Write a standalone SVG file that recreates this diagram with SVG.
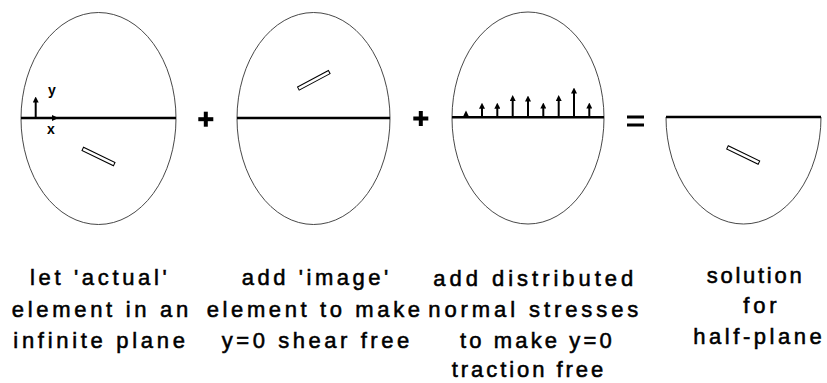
<svg xmlns="http://www.w3.org/2000/svg" width="827" height="383" viewBox="0 0 827 383">
  <defs>
    <marker id="ah" viewBox="0 0 6 6" refX="2" refY="3" markerWidth="6" markerHeight="6" markerUnits="userSpaceOnUse" orient="auto">
      <path d="M0,0 L6,3 L0,6 z" fill="#000"/>
    </marker>
  </defs>
  <style>
    .outline { fill: none; stroke: #333; stroke-width: 0.9; }
    .plane { stroke: #000; stroke-width: 2.6; fill: none; }
    .crack { fill: #fff; stroke: #000; stroke-width: 1; }
    .arr { stroke: #000; stroke-width: 2; fill: none; marker-end: url(#ah); }
    .op { fill: #000; }
    .lbl { font-family: "Liberation Sans", Arial, sans-serif; font-size: 22px; fill: #000; stroke: #000; stroke-width: 0.55; }
    .ax { font-family: "Liberation Sans", Arial, sans-serif; font-size: 14px; font-weight: bold; fill: #000; }
  </style>
  <rect width="827" height="383" fill="#fff"/>

  <g id="panel-actual">
    <ellipse class="outline" cx="98.5" cy="118.5" rx="77.5" ry="106"/>
    <line class="plane" x1="21" y1="118" x2="176" y2="118"/>
    <line class="arr" x1="35.7" y1="118" x2="35.7" y2="100.5"/>
    <polygon points="52,115 58.5,118 52,121" fill="#000"/>
    <text class="ax" x="48" y="95">y</text>
    <text class="ax" x="47" y="134">x</text>
    <rect class="crack" x="81" y="154.75" width="35" height="3.5" transform="rotate(26 98.5 156.5)"/>
  </g>

  <g id="panel-image">
    <ellipse class="outline" cx="313.5" cy="118.5" rx="76.5" ry="106"/>
    <line class="plane" x1="237" y1="118" x2="390" y2="118"/>
    <rect class="crack" x="296.3" y="78.55" width="35" height="3.5" transform="rotate(-28 313.8 80.3)"/>
  </g>

  <g id="panel-stresses">
    <ellipse class="outline" cx="528" cy="118" rx="76" ry="106"/>
    <line class="plane" x1="452" y1="117.3" x2="604" y2="117.3"/>
    <polygon points="462.8,117 469.2,117 466,110.5" fill="#000"/>
    <line class="arr" x1="482" y1="117" x2="482" y2="106.7"/>
    <line class="arr" x1="497.3" y1="117" x2="497.3" y2="106.7"/>
    <line class="arr" x1="512.7" y1="117" x2="512.7" y2="99"/>
    <line class="arr" x1="528" y1="117" x2="528" y2="99.5"/>
    <line class="arr" x1="543.3" y1="117" x2="543.3" y2="106.5"/>
    <line class="arr" x1="558.7" y1="117" x2="558.7" y2="99"/>
    <line class="arr" x1="574" y1="117" x2="574" y2="91.5"/>
    <line class="arr" x1="589.3" y1="117" x2="589.3" y2="106.5"/>
  </g>

  <g id="panel-halfplane">
    <path class="outline" d="M666,117 A77.5,107 0 0 0 821,117"/>
    <line class="plane" x1="666" y1="117" x2="821" y2="117"/>
    <rect class="crack" x="725.7" y="153.25" width="35" height="3.5" transform="rotate(26 743.2 155)"/>
  </g>

  <g id="operators">
    <rect class="op" x="198.3" y="117.2" width="15" height="4"/>
    <rect class="op" x="203.8" y="111.7" width="4" height="15"/>
    <rect class="op" x="413.3" y="116.5" width="15" height="4"/>
    <rect class="op" x="418.8" y="111" width="4" height="15"/>
    <rect class="op" x="627" y="115.5" width="17" height="3"/>
    <rect class="op" x="627" y="123.5" width="17" height="3"/>
  </g>

  <g id="labels">
    <text class="lbl" x="30" y="285" textLength="136.7" lengthAdjust="spacing">let 'actual'</text>
    <text class="lbl" x="11.7" y="317" textLength="176.6" lengthAdjust="spacing">element in an</text>
    <text class="lbl" x="13.3" y="348" textLength="171.7" lengthAdjust="spacing">infinite plane</text>

    <text class="lbl" x="241.7" y="285" textLength="146.6" lengthAdjust="spacing">add 'image'</text>
    <text class="lbl" x="206.7" y="317" textLength="213.3" lengthAdjust="spacing">element to make</text>
    <text class="lbl" x="221.7" y="348" textLength="187.6" lengthAdjust="spacing">y=0 shear free</text>

    <text class="lbl" x="433.3" y="286" textLength="200" lengthAdjust="spacing">add distributed</text>
    <text class="lbl" x="428.3" y="317" textLength="210" lengthAdjust="spacing">normal stresses</text>
    <text class="lbl" x="460" y="348" textLength="151.7" lengthAdjust="spacing">to make y=0</text>
    <text class="lbl" x="451.7" y="377" textLength="151.6" lengthAdjust="spacing">traction free</text>

    <text class="lbl" x="706.7" y="283" textLength="95" lengthAdjust="spacing">solution</text>
    <text class="lbl" x="743.3" y="313" textLength="33.4" lengthAdjust="spacing">for</text>
    <text class="lbl" x="693.3" y="344" textLength="128.4" lengthAdjust="spacing">half-plane</text>
  </g>
</svg>
